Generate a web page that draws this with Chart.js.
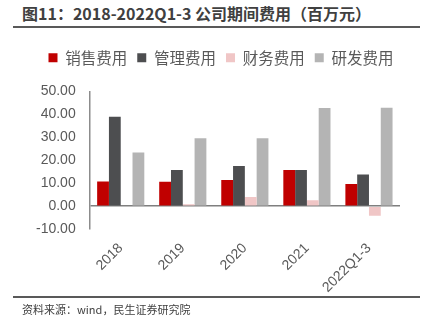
<!DOCTYPE html>
<html>
<head>
<meta charset="utf-8">
<script src="https://cdn.jsdelivr.net/npm/chart.js@4"></script>
<style>
  body { margin: 0; width: 432px; height: 330px; background: #fff; position: relative; overflow: hidden; font-family: "Noto Sans CJK SC", sans-serif; }
  #title { position: absolute; left: 22px; top: 1px; font-size: 16px; font-weight: bold; color: #404040; white-space: nowrap; }
  #rule1 { position: absolute; left: 13px; top: 26px; width: 407px; height: 2px; background: #595959; }
  #rule2 { position: absolute; left: 13px; top: 296px; width: 407px; height: 2px; background: #595959; }
  #source { position: absolute; left: 22px; top: 301px; font-size: 11px; color: #404040; white-space: nowrap; }
  #box { position: absolute; left: 0; top: 40px; width: 432px; height: 259px; }
</style>
</head>
<body>
<div id="title">图11：2018-2022Q1-3 公司期间费用（百万元）</div>
<div id="rule1"></div>
<div id="box"><canvas id="grafico"></canvas></div>
<div id="rule2"></div>
<div id="source">资料来源：wind，民生证券研究院</div>
<script>
const anos = ['2018', '2019', '2020', '2021', '2022Q1-3'];
const vendas = [10.7, 10.6, 11.4, 15.8, 9.7];
const gestao = [39.0, 15.8, 17.5, 15.8, 13.8];
const financeiro = [0.3, 0.8, 4.0, 2.6, -4.2];
const pesquisa = [23.4, 29.6, 29.6, 42.8, 42.9];
const nomes = ['销售费用', '管理费用', '财务费用', '研发费用'];
const cores = ['#C00000', '#4D4E50', '#F0C6C6', '#B4B4B4'];

const ctx = document.getElementById('grafico').getContext('2d');

// espaço extra abaixo da legenda e legenda um pouco à direita
const ajusteLegenda = {
  id: 'ajusteLegenda',
  beforeInit(chart) {
    const fit = chart.legend.fit;
    chart.legend.fit = function () {
      fit.bind(chart.legend)();
      this.height += 16;
    };
  },
  afterLayout(chart) {
    chart.legend.left += 10;
    chart.legend.right += 10;
  }
};

const grafico = new Chart(ctx, {
  type: 'bar',
  data: {
    labels: anos,
    datasets: [vendas, gestao, financeiro, pesquisa].map((d, i) => ({
      label: nomes[i],
      data: d,
      backgroundColor: cores[i],
      borderWidth: 0,
      categoryPercentage: 0.76,
      barPercentage: 1.0
    }))
  },
  options: {
    responsive: true,
    maintainAspectRatio: false,
    animation: false,
    layout: { padding: { left: 22, right: 32, top: 0, bottom: 0 } },
    scales: {
      y: {
        min: -10,
        max: 50,
        ticks: {
          stepSize: 10,
          padding: 14,
          color: '#595959',
          font: { size: 14, family: 'Liberation Sans' },
          callback: v => v.toFixed(2)
        },
        grid: {
          drawTicks: false,
          color: c => c.tick && c.tick.value === 0 ? '#7F7F7F' : 'rgba(0,0,0,0)',
          lineWidth: 1.5
        },
        border: { display: true, color: '#8C8C8C', width: 1.5 }
      },
      x: {
        ticks: {
          minRotation: 45,
          maxRotation: 45,
          color: '#595959',
          font: { size: 14, family: 'Liberation Sans' }
        },
        grid: { display: false },
        border: { display: false }
      }
    },
    plugins: {
      legend: {
        display: true,
        position: 'top',
        labels: {
          boxWidth: 9,
          boxHeight: 9,
          padding: 10,
          color: '#595959',
          font: { size: 15.5, family: 'Noto Sans CJK SC' }
        }
      },
      tooltip: { enabled: false }
    }
  },
  plugins: [ajusteLegenda]
});
</script>
</body>
</html>
